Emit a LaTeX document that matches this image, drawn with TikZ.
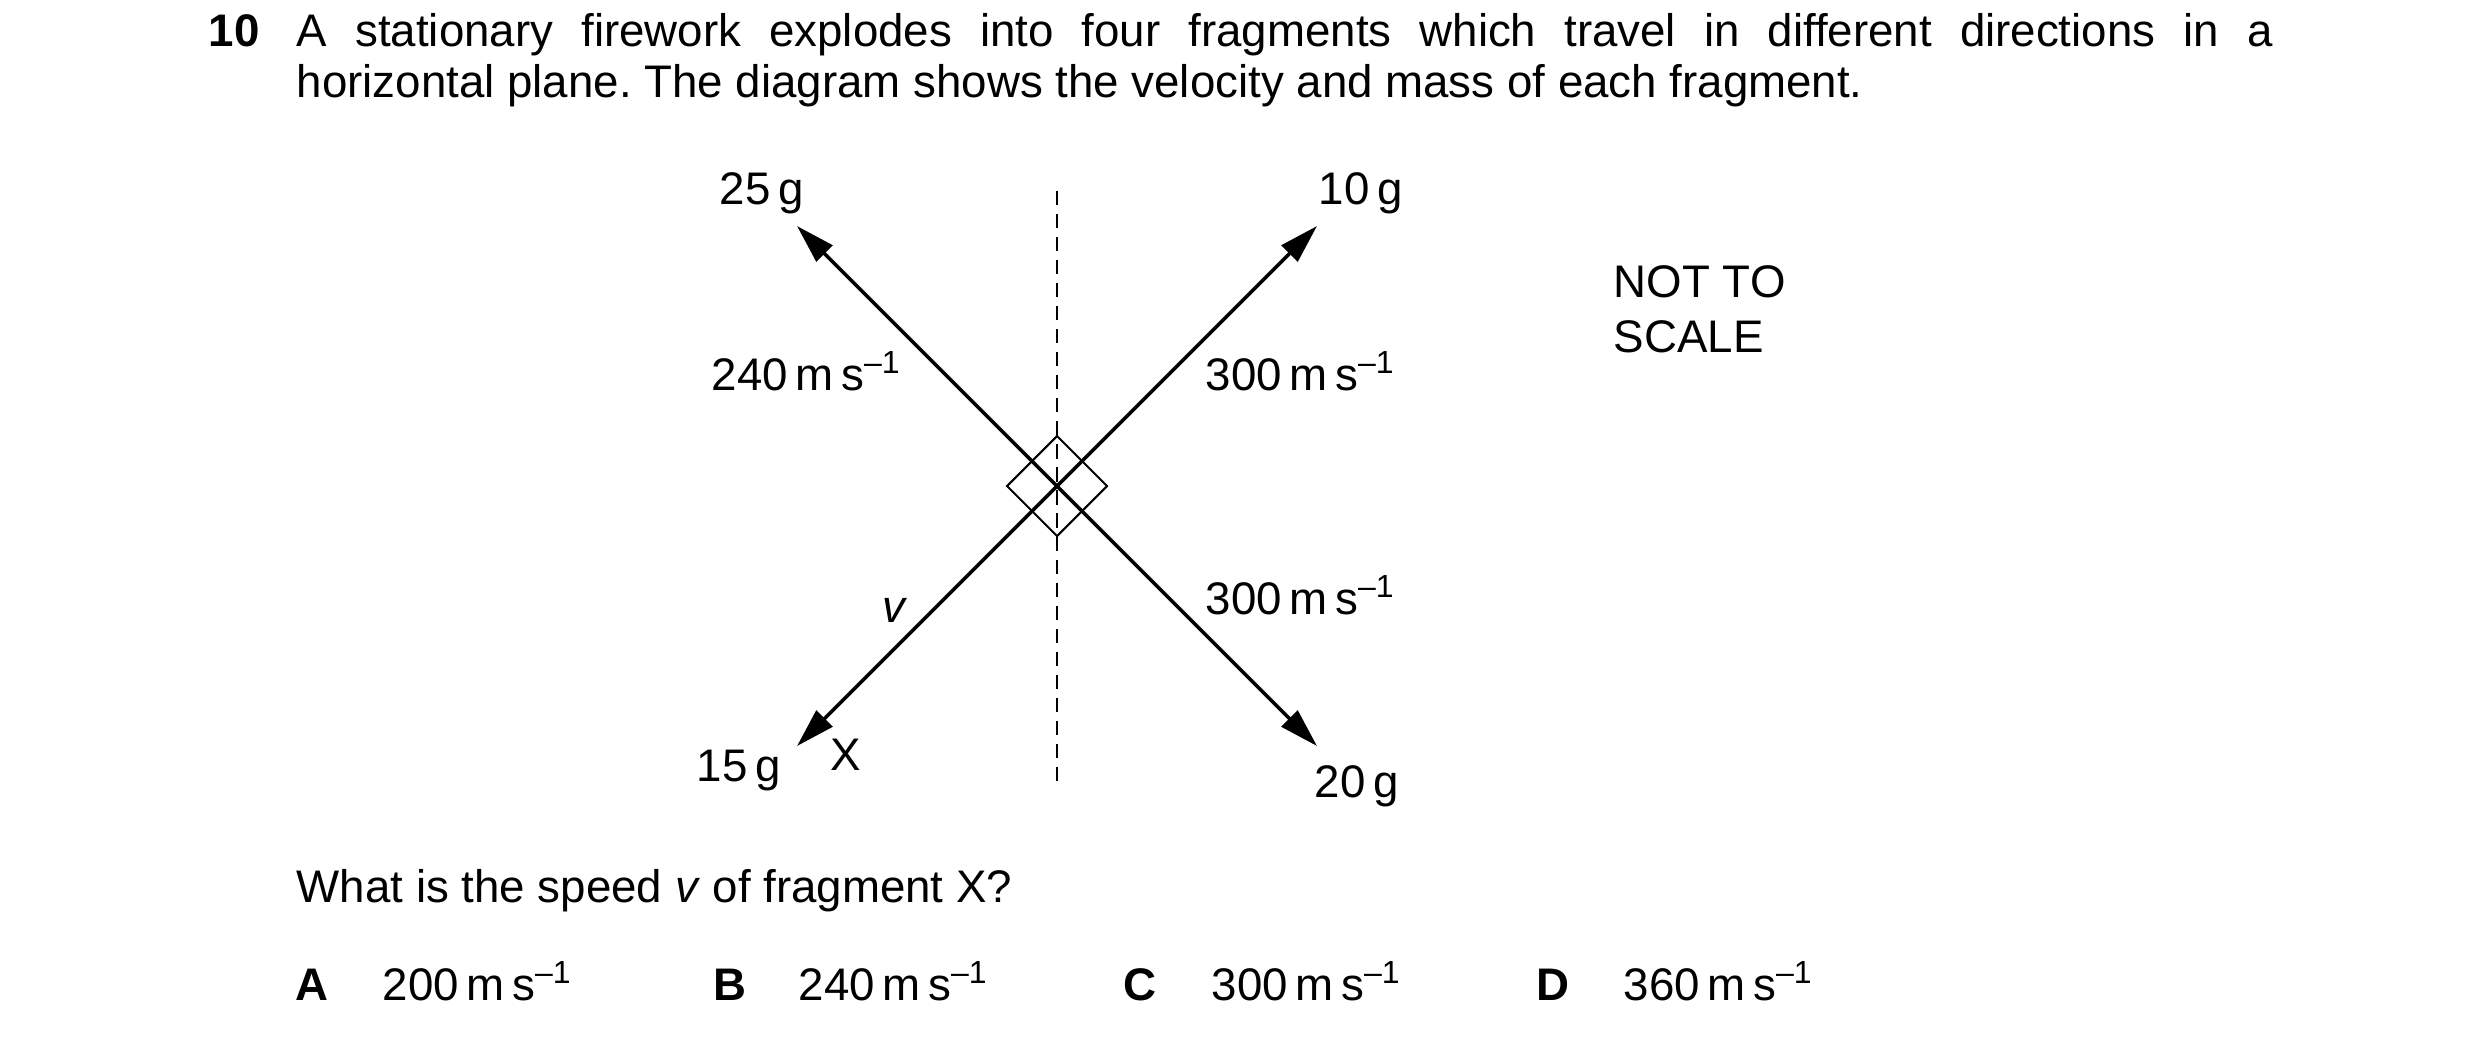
\documentclass[tikz,border=0pt]{standalone}
\usepackage{fontspec}
\setmainfont{Liberation Sans}
\usetikzlibrary{arrows.meta}
\frenchspacing
\newcommand{\qsize}{\fontsize{11}{12.5}\selectfont}
\newcommand{\ms}{\,m\,s\textsuperscript{–1}}

\begin{document}
\begin{tikzpicture}[x=0.084667mm, y=-0.084667mm,
    txt/.style={anchor=base west, inner sep=0pt, font=\qsize},
    key/.style={txt, font=\qsize\bfseries},
    vec/.style={line width=0.85pt, -{Triangle[length=3.3mm,width=1.9mm]}}]
    \useasboundingbox (0,0) rectangle (2480,1041);
    \def\rowOne{46}
    \def\rowTop{204}
    \def\rowSpeedTop{390}
    \def\rowSpeedLow{614}
    \def\rowAsk{902}
    \def\rowOpt{1000}
    \node[key] (num) at (208,\rowOne) {10};
    \node[txt, text width=167.3mm, align=justify] (stem) at (296,\rowOne)
        {A stationary firework explodes into four fragments which travel in different directions in a\linebreak
         horizontal plane. The diagram shows the velocity and mass of each fragment.};
    \coordinate (O) at (1057,486);
    \coordinate (tipTL) at (797,226);
    \coordinate (tipTR) at (1317,226);
    \coordinate (tipBL) at (797,746);
    \coordinate (tipBR) at (1317,746);
    \coordinate (dashTop) at (1057,191);
    \coordinate (dashBot) at (1057,781);
    \draw[line width=0.5pt, dash pattern=on 1.2mm off 0.75mm] (dashTop) -- (dashBot);
    \draw[line width=0.5pt] (O) ++(0,-50) -- ++(50,50) -- ++(-50,50) -- ++(-50,-50) -- cycle;
    \draw[vec] (O) -- (tipTL);
    \draw[vec] (O) -- (tipTR);
    \draw[vec] (O) -- (tipBL);
    \draw[vec] (O) -- (tipBR);
    \node[txt] (massTL) at (719,\rowTop) {25\,g};
    \node[txt] (massTR) at (1318,\rowTop) {10\,g};
    \node[txt] (speedTL) at (711,\rowSpeedTop) {240\ms};
    \node[txt] (speedTR) at (1205,\rowSpeedTop) {300\ms};
    \node[txt] (speedBR) at (1205,\rowSpeedLow) {300\ms};
    \node[txt] (speedBL) at (882,622) {\textit{v}};
    \node[txt] (massBL) at (696,781) {15\,g};
    \node[txt] (fragX) at (830,770) {X};
    \node[txt] (massBR) at (1314,797) {20\,g};
    \node[txt] (scale1) at (1613,297) {NOT TO};
    \node[txt] (scale2) at (1613,352) {SCALE};
    \node[txt] (ask) at (296,\rowAsk) {What is the speed \textit{v} of fragment X?};
    \node[key] (optA) at (295,\rowOpt) {A};
    \node[txt] (valA) at (382,\rowOpt) {200\ms};
    \node[key] (optB) at (713,\rowOpt) {B};
    \node[txt] (valB) at (798,\rowOpt) {240\ms};
    \node[key] (optC) at (1123,\rowOpt) {C};
    \node[txt] (valC) at (1211,\rowOpt) {300\ms};
    \node[key] (optD) at (1536,\rowOpt) {D};
    \node[txt] (valD) at (1623,\rowOpt) {360\ms};
\end{tikzpicture}
\end{document}
